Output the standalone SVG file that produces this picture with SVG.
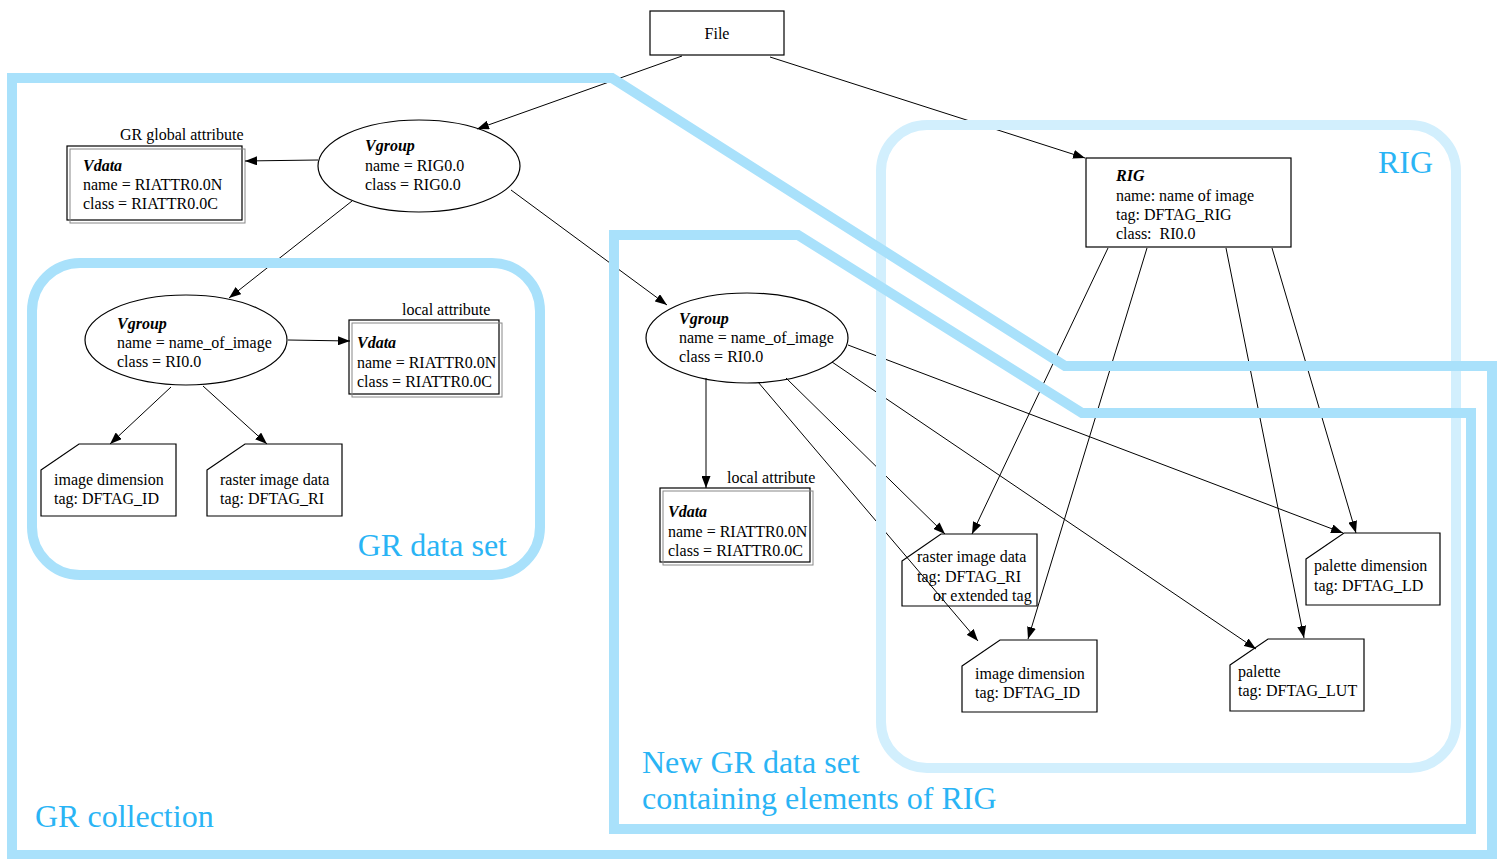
<svg xmlns="http://www.w3.org/2000/svg" width="1497" height="859" viewBox="0 0 1497 859">
<style>
.t{font-family:"Liberation Serif","Times New Roman",serif;font-size:16px;fill:#000}
.b{font-weight:bold;font-style:italic}
.n{fill:#fff;stroke:#000;stroke-width:1.2}
.e{stroke:#000;stroke-width:1;fill:none;marker-end:url(#ah)}
.band{fill:none;stroke:#a9e1fb;stroke-width:10}
.band2{fill:none;stroke:#d2effd;stroke-width:10}
.lab{font-family:"Liberation Serif","Times New Roman",serif;font-size:32px;fill:#2ab4f5}
</style>
<defs>
<marker id="ah" markerUnits="userSpaceOnUse" markerWidth="13" markerHeight="9" refX="12" refY="4.5" orient="auto">
<path d="M0,0 L12,4.5 L0,9 z" fill="#000"/>
</marker>
</defs>
<rect width="1497" height="859" fill="#fff"/>

<g id="nodes-under">
<g id="file"><rect class="n" x="650" y="11" width="134" height="44"/><text class="t" x="717" y="39" text-anchor="middle" font-size="15">File</text></g>
<g id="vgroup1"><ellipse class="n" cx="419" cy="166" rx="101" ry="46"/>
<text class="t b" x="365" y="151">Vgroup</text><text class="t" x="365" y="171">name = RIG0.0</text><text class="t" x="365" y="190">class = RIG0.0</text></g>
<g id="vdata1"><rect class="n" x="67" y="146" width="175" height="74"/><rect x="70" y="149" width="175" height="74" fill="none" stroke="#888" stroke-width="1"/>
<text class="t" x="120" y="140">GR global attribute</text>
<text class="t b" x="83" y="171">Vdata</text><text class="t" x="83" y="190">name = RIATTR0.0N</text><text class="t" x="83" y="209">class = RIATTR0.0C</text></g>
<g id="vgroup2"><ellipse class="n" cx="186" cy="340" rx="101" ry="45"/>
<text class="t b" x="117" y="329">Vgroup</text><text class="t" x="117" y="348">name = name_of_image</text><text class="t" x="117" y="367">class = RI0.0</text></g>
<g id="vdata2"><rect class="n" x="349" y="320" width="150" height="74"/><rect x="352" y="323" width="150" height="74" fill="none" stroke="#888" stroke-width="1"/>
<text class="t" x="402" y="315">local attribute</text>
<text class="t b" x="357" y="348">Vdata</text><text class="t" x="357" y="368">name = RIATTR0.0N</text><text class="t" x="357" y="387">class = RIATTR0.0C</text></g>
<g id="imgdim1"><path class="n" d="M41,470 L79,444 L176,444 L176,516 L41,516 Z"/>
<text class="t" x="54" y="485">image dimension</text><text class="t" x="54" y="504">tag: DFTAG_ID</text></g>
<g id="raster1"><path class="n" d="M207,470 L245,444 L342,444 L342,516 L207,516 Z"/>
<text class="t" x="220" y="485">raster image data</text><text class="t" x="220" y="504">tag: DFTAG_RI</text></g>
<g id="vgroup3"><ellipse class="n" cx="747" cy="338" rx="101" ry="45"/>
<text class="t b" x="679" y="324">Vgroup</text><text class="t" x="679" y="343">name = name_of_image</text><text class="t" x="679" y="362">class = RI0.0</text></g>
<g id="vdata3"><rect class="n" x="660" y="488" width="150" height="74"/><rect x="663" y="491" width="150" height="74" fill="none" stroke="#888" stroke-width="1"/>
<text class="t" x="727" y="483">local attribute</text>
<text class="t b" x="668" y="517">Vdata</text><text class="t" x="668" y="537">name = RIATTR0.0N</text><text class="t" x="668" y="556">class = RIATTR0.0C</text></g>
<g id="rig"><rect class="n" x="1086" y="158" width="205" height="89"/>
<text class="t b" x="1116" y="181">RIG</text><text class="t" x="1116" y="201">name: name of image</text><text class="t" x="1116" y="220">tag: DFTAG_RIG</text><text class="t" x="1116" y="239" xml:space="preserve">class:  RI0.0</text></g>
<g id="raster2"><path class="n" d="M902,561 L941,534 L1037,534 L1037,606 L902,606 Z"/>
<text class="t" x="917" y="562">raster image data</text><text class="t" x="917" y="582">tag: DFTAG_RI</text><text class="t" x="933" y="601">or extended tag</text></g>
<g id="imgdim2"><path class="n" d="M962,666 L1000,640 L1097,640 L1097,712 L962,712 Z"/>
<text class="t" x="975" y="679">image dimension</text><text class="t" x="975" y="698">tag: DFTAG_ID</text></g>
<g id="palette"><path class="n" d="M1230,665 L1268,639 L1364,639 L1364,711 L1230,711 Z"/>
<text class="t" x="1238" y="677">palette</text><text class="t" x="1238" y="696">tag: DFTAG_LUT</text></g>
<g id="paldim"><path class="n" d="M1306,559 L1344,533 L1440,533 L1440,605 L1306,605 Z"/>
<text class="t" x="1314" y="571">palette dimension</text><text class="t" x="1314" y="591">tag: DFTAG_LD</text></g>
</g>

<g id="connectors">
<line class="e" x1="682" y1="56" x2="477" y2="129"/>
<line class="e" x1="770" y1="57" x2="1085" y2="158"/>
<line class="e" x1="318" y1="160" x2="245" y2="161"/>
<line class="e" x1="352" y1="201" x2="229" y2="298"/>
<line class="e" x1="511" y1="190" x2="667" y2="305"/>
<line class="e" x1="288" y1="340" x2="350" y2="341"/>
<line class="e" x1="171" y1="387" x2="110" y2="444"/>
<line class="e" x1="203" y1="386" x2="267" y2="444"/>
<line class="e" x1="706" y1="378" x2="706" y2="488"/>
<line class="e" x1="786" y1="378" x2="945" y2="534"/>
<line class="e" x1="758" y1="382" x2="978" y2="641"/>
<line class="e" x1="832" y1="362" x2="1256" y2="649"/>
<line class="e" x1="848" y1="345" x2="1343" y2="533"/>
<line class="e" x1="1108" y1="248" x2="972" y2="534"/>
<line class="e" x1="1147" y1="248" x2="1028" y2="639"/>
<line class="e" x1="1226" y1="248" x2="1304" y2="638"/>
<line class="e" x1="1272" y1="248" x2="1356" y2="533"/>
</g>

<g id="containers">
<g id="rig-set"><rect class="band2" x="881" y="125" width="575" height="643" rx="46" ry="46"/>
<text class="lab" x="1433" y="173" text-anchor="end">RIG</text></g>
<g id="gr-data-set"><rect class="band" x="32" y="263" width="508" height="312" rx="48" ry="48"/>
<text class="lab" x="507" y="556" text-anchor="end">GR data set</text></g>
<g id="gr-collection"><path class="band" d="M12,78 L612,78 L1065,366 L1492,366 L1492,855 L12,855 Z"/>
<text class="lab" x="35" y="827">GR collection</text></g>
<g id="new-gr-data-set"><path class="band" d="M614,235 L798,235 L1082,413 L1471,413 L1471,829 L614,829 Z"/>
<text class="lab" x="642" y="773">New GR data set</text><text class="lab" x="642" y="809">containing elements of RIG</text></g>
</g>
</svg>
